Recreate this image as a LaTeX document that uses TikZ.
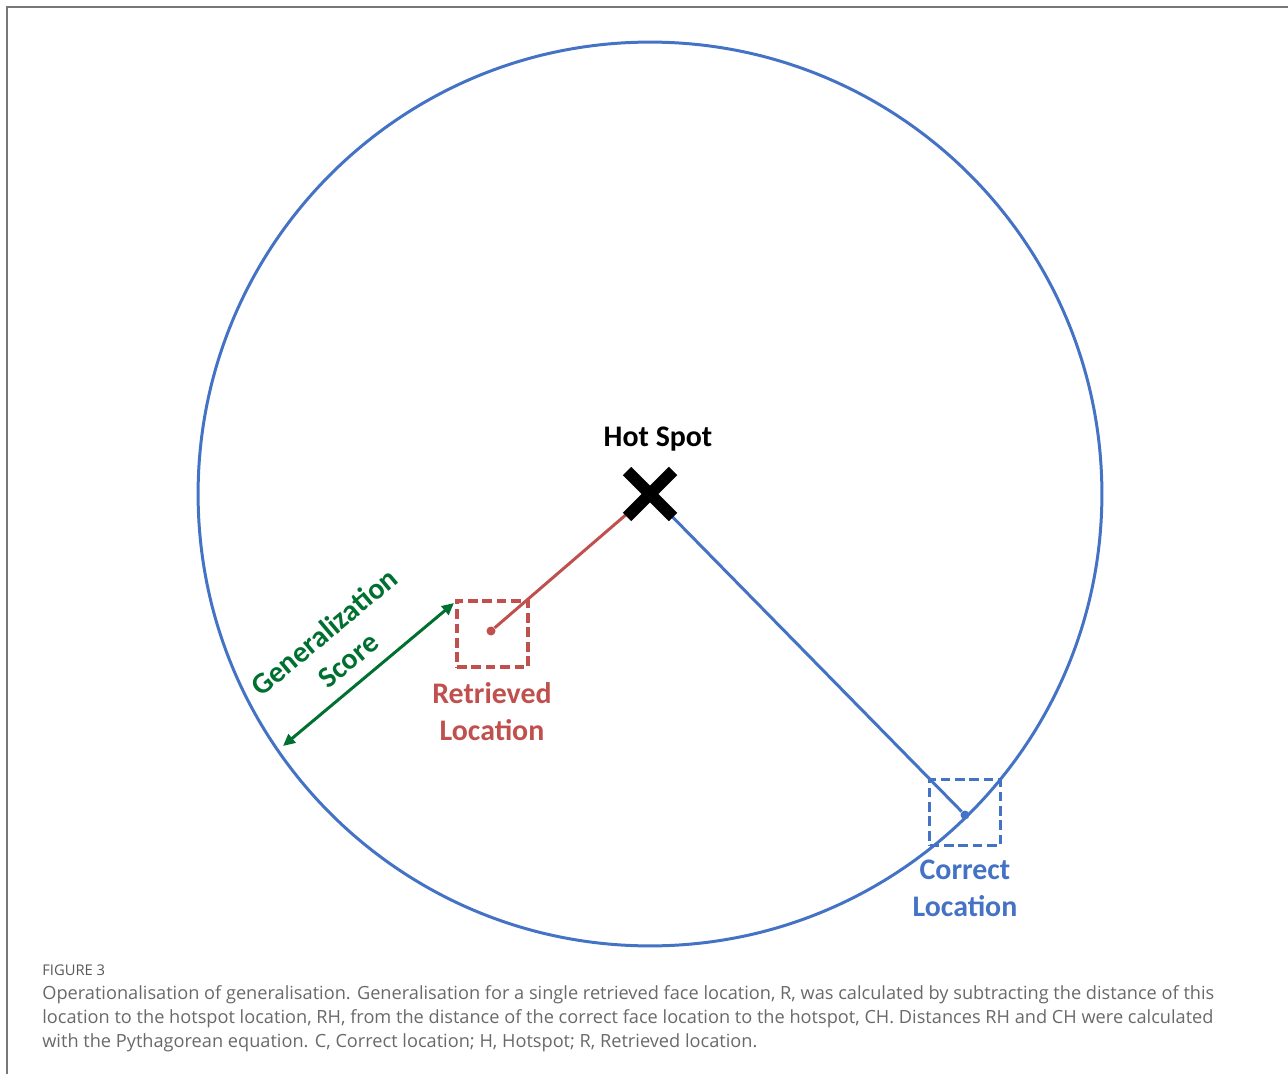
\documentclass[tikz,border=0pt]{standalone}
\usepackage{fontspec}
\usepackage{tikz}
\usetikzlibrary{arrows.meta}
\newfontfamily\carlito{Carlito}
\newfontfamily\opensans{Open Sans}
\definecolor{ringblue}{RGB}{68,114,196}
\definecolor{retred}{RGB}{192,80,77}
\definecolor{scoregreen}{RGB}{0,112,48}
\definecolor{capgray}{RGB}{105,105,105}
\definecolor{framegray}{RGB}{120,120,120}

\begin{document}
\begin{tikzpicture}[x=0.02cm, y=-0.02cm,
            label text/.style = {font=\carlito\bfseries\fontsize{17}{21}\selectfont, align=center, inner sep=0pt},
            loc box/.style = {draw, dash pattern=on 5.5pt off 2.7pt, line width=1.9pt,
                              minimum width=1.42cm, minimum height=1.32cm, inner sep=0pt},
            loc dot/.style = {circle, fill, inner sep=0pt, minimum size=0.18cm}]
        \useasboundingbox (0,0) rectangle (1288,1074);
        % frame
        \draw[framegray, line width=0.6pt] (7,1074) -- (7,7) -- (1288,7);
        % ring
        \draw[ringblue, line width=1.7pt] (650,494) circle[radius=9.04cm];
        % locations
        \coordinate (hs) at (650,494);
        \node[loc dot, retred] (rdot) at (491,631) {};
        \node[loc box, retred] (rbox) at (492.5,634) {};
        \node[loc dot, ringblue] (cdot) at (965,815) {};
        \node[loc box, ringblue] (cbox) at (965,812.5) {};
        \draw[retred, line width=1.7pt] (hs) -- (rdot);
        \draw[ringblue, line width=1.7pt] (hs) -- (cdot);
        % hot spot cross
        \draw[black, line width=0.24cm] ([shift={(-23,-23)}]hs) -- ([shift={(23,23)}]hs)
                                        ([shift={(-23,23)}]hs) -- ([shift={(23,-23)}]hs);
        \node[label text, black] (hslabel) at (658,439) {Hot Spot};
        \node[label text, retred] (rlabel) at (492,712) {Retrieved\\Location};
        \node[label text, ringblue] (clabel) at (965,888) {Correct\\Location};
        % generalization score
        \coordinate (gA) at (283,746);
        \coordinate (gB) at (454,603);
        \draw[scoregreen, line width=1.7pt,
              {Triangle[length=0.24cm, width=0.22cm]}-{Triangle[length=0.24cm, width=0.22cm]}] (gA) -- (gB);
        \node[label text, scoregreen, rotate=40] (glabel) at (336,646) {Generalization\\Score};
        % caption
        \node[anchor=base west, inner sep=0pt, text=capgray!85!black, font=\opensans\fontsize{8.4}{9}\selectfont] (fig) at (42,975) {FIGURE 3};
        \node[anchor=base west, inner sep=0pt, text=capgray, align=left,
              font=\opensans\fontsize{10.35}{13.6}\selectfont] (cap) at (42,1047)
              {Operationalisation of generalisation. Generalisation for a single retrieved face location, R, was calculated by subtracting the distance of this\\
               location to the hotspot location, RH, from the distance of the correct face location to the hotspot, CH. Distances RH and CH were calculated\\
               with the Pythagorean equation. C, Correct location; H, Hotspot; R, Retrieved location.};
\end{tikzpicture}
\end{document}
